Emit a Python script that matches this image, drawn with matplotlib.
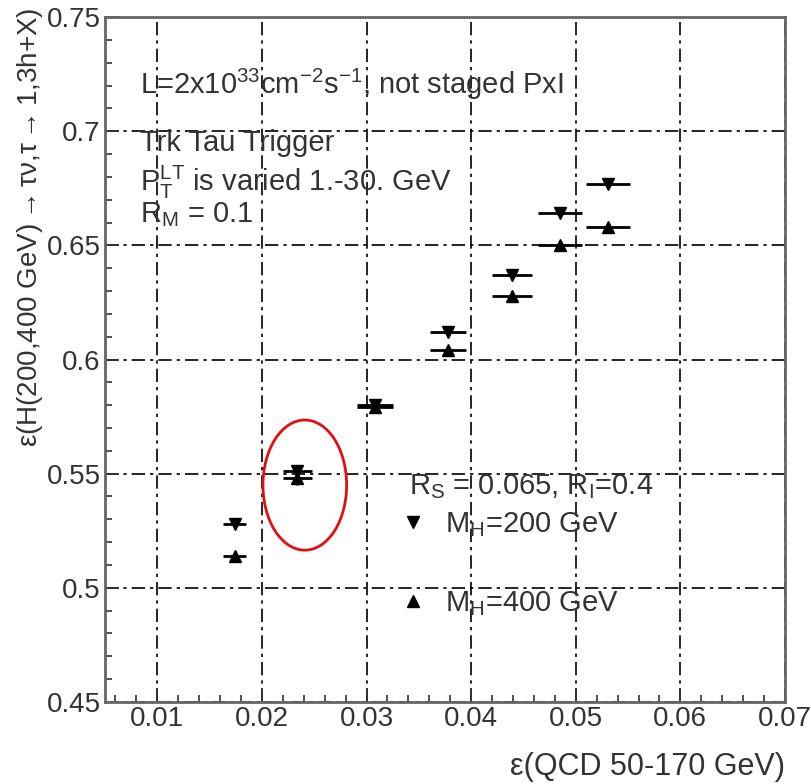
import matplotlib.pyplot as plt
from matplotlib.patches import Ellipse
from matplotlib.lines import Line2D
from matplotlib.ticker import MultipleLocator

plt.rcParams['font.family'] = ['Liberation Sans', 'DejaVu Sans']
plt.rcParams['mathtext.fontset'] = 'custom'
plt.rcParams['mathtext.rm'] = 'Liberation Sans'
plt.rcParams['mathtext.it'] = 'Liberation Sans:italic'
plt.rcParams['mathtext.default'] = 'rm'

# Data: QCD efficiency vs Higgs efficiency
x_qcd = [0.0174, 0.0234, 0.0308, 0.0378, 0.0439, 0.0485, 0.0531]
x_err = [0.0011, 0.0014, 0.0017, 0.0017, 0.0019, 0.0021, 0.0021]
y_h200 = [0.528, 0.551, 0.580, 0.612, 0.637, 0.664, 0.677]
y_h400 = [0.514, 0.548, 0.579, 0.604, 0.628, 0.650, 0.658]
y_err = [0.002, 0.003, 0.002, 0.002, 0.002, 0.002, 0.002]

fig = plt.figure(figsize=(8.12, 7.84), dpi=100)
ax = fig.add_axes([0.1293, 0.1046, 0.8374, 0.8737])

ax.errorbar(x_qcd, y_h200, xerr=x_err, yerr=y_err, fmt='v', color='black',
            markersize=9, elinewidth=2, capsize=0, zorder=3)
ax.errorbar(x_qcd, y_h400, xerr=x_err, yerr=y_err, fmt='^', color='black',
            markersize=9, elinewidth=2, capsize=0, zorder=3)

# highlighted point
ax.add_patch(Ellipse((0.0241, 0.545), 0.0080, 0.057, fill=False,
                     edgecolor='#e01010', linewidth=2, zorder=4))

ax.set_xlim(0.005, 0.07)
ax.set_ylim(0.45, 0.75)
ax.xaxis.set_minor_locator(MultipleLocator(0.002))
ax.yaxis.set_minor_locator(MultipleLocator(0.01))
ax.set_xticks([0.01, 0.02, 0.03, 0.04, 0.05, 0.06, 0.07])
ax.set_xticklabels(['0.01', '0.02', '0.03', '0.04', '0.05', '0.06', '0.07'])
ax.set_yticks([0.45, 0.5, 0.55, 0.6, 0.65, 0.7, 0.75])
ax.set_yticklabels(['0.45', '0.5', '0.55', '0.6', '0.65', '0.7', '0.75'])
ax.tick_params(which='both', direction='in', top=False, right=False,
               labelsize=20, colors='#333333', width=1.2)
ax.tick_params(which='major', length=10, pad=3)
ax.tick_params(which='minor', length=5)

ax.grid(True, which='major', color='black', linewidth=1.2,
        linestyle=(0, (8, 3, 2, 3)))
for s in ax.spines.values():
    s.set_color('#666666')
    s.set_linewidth(2)

ax.set_xlabel('ε(QCD 50-170 GeV)', fontsize=22, color='#333333',
              loc='right', labelpad=14)
ax.set_ylabel(r'ε(H(200,400 GeV)$\rightarrow$τν,τ$\rightarrow$1,3h+X)',
              fontsize=20, color='#333333', loc='top')
ax.yaxis.set_label_coords(-0.088, 1.014)

tc = '#333333'
ax.text(0.0515, 0.901, r'L=2x10$^{33}$cm$^{-2}$s$^{-1}$, not staged PxI',
        transform=ax.transAxes, fontsize=21, color=tc, va='center')
ax.text(0.0515, 0.816, 'Trk Tau Trigger', transform=ax.transAxes,
        fontsize=21, color=tc, va='center')
ax.text(0.0515, 0.758, r'P$_{T}^{LT}$ is varied 1.-30. GeV',
        transform=ax.transAxes, fontsize=21, color=tc, va='center')
ax.text(0.0515, 0.712, r'R$_{M}$ = 0.1', transform=ax.transAxes,
        fontsize=21, color=tc, va='center')

ax.text(0.447, 0.314, r'R$_{S}$ = 0.065, R$_{I}$=0.4', transform=ax.transAxes,
        fontsize=21, color=tc, va='center')
handles = [Line2D([], [], marker='v', color='black', linestyle='none', markersize=8),
           Line2D([], [], marker='^', color='black', linestyle='none', markersize=8)]
leg = ax.legend(handles, [r'M$_{H}$=200 GeV', r'M$_{H}$=400 GeV'],
                loc='center left', bbox_to_anchor=(0.431, 0.2015),
                frameon=False, fontsize=21, labelspacing=1.7,
                handlelength=1.0, handletextpad=0.6, borderpad=0,
                borderaxespad=0)
for t in leg.get_texts():
    t.set_color(tc)

fig.savefig('out.png', dpi=100)
